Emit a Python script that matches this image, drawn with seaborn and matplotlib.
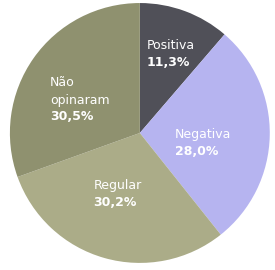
import matplotlib
matplotlib.use("Agg")
import numpy as np
import matplotlib.pyplot as plt
import seaborn as sns

sns.set_theme(style="white")
plt.rcParams['font.family'] = ['DejaVu Sans']

# data
labels = ["Positiva", "Negativa", "Regular", "Não\nopinaram"]
values = [11.3, 28.0, 30.2, 30.5]
pct_text = ["11,3%", "28,0%", "30,2%", "30,5%"]
colors = ["#505058", "#b6b4f0", "#abac88", "#8f916f"]

# label placement (radius, angle tweak in degrees)
label_r = [0.65, 0.49, 0.50, 0.50]
label_dt = [-1, -8, -4, 13]

fig = plt.figure(figsize=(2.75, 2.7), dpi=100)
ax = fig.add_axes([0.036, 0.026, 0.945, 0.963])

wedges, _ = ax.pie(values, colors=colors, startangle=90, counterclock=False,
                   radius=1.0, wedgeprops=dict(linewidth=0))
ax.set_xlim(-1, 1)
ax.set_ylim(-1, 1)
ax.set_aspect("equal")
ax.axis("off")

renderer = fig.canvas.get_renderer()
inv = ax.transData.inverted()
for w, lab, pct, r, dt in zip(wedges, labels, pct_text, label_r, label_dt):
    mid = np.deg2rad((w.theta1 + w.theta2) / 2 + dt)
    x, y = r * np.cos(mid), r * np.sin(mid)
    t1 = ax.text(x, y + 0.015, lab, color="white", fontsize=9,
                 ha="left", va="bottom", linespacing=1.5)
    t2 = ax.text(x, y - 0.015, pct, color="white", fontsize=9,
                 fontweight="bold", ha="left", va="top")
    b1 = t1.get_window_extent(renderer)
    b2 = t2.get_window_extent(renderer)
    wpx = max(b1.width, b2.width)
    (x0, _), (x1, _) = inv.transform([(0, 0), (wpx, 0)])
    left = x - (x1 - x0) / 2
    t1.set_x(left)
    t2.set_x(left)

fig.savefig("out.png", dpi=100)
